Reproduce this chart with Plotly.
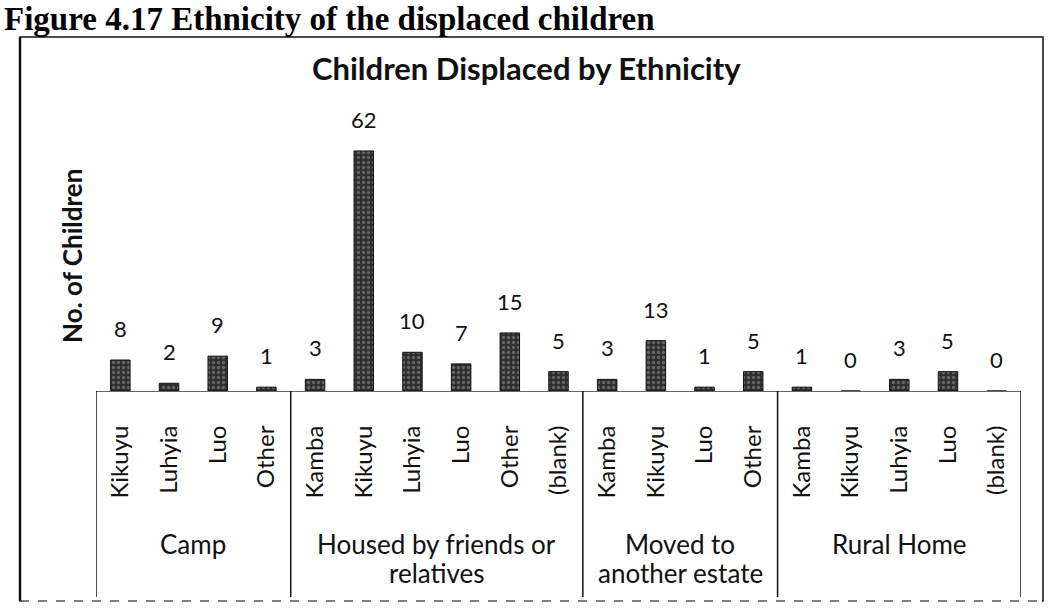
import plotly.graph_objects as go

# ---- data -------------------------------------------------------------
camp_eth = ["Kikuyu", "Luhyia", "Luo", "Other"]
camp_n = [8, 2, 9, 1]

housed_eth = ["Kamba", "Kikuyu", "Luhyia", "Luo", "Other", "(blank)"]
housed_n = [3, 62, 10, 7, 15, 5]

moved_eth = ["Kamba", "Kikuyu", "Luo", "Other"]
moved_n = [3, 13, 1, 5]

rural_eth = ["Kamba", "Kikuyu", "Luhyia", "Luo", "(blank)"]
rural_n = [1, 0, 3, 5, 0]

# group captions, one list entry per printed line
group_lines = [["Camp"], ["Housed by friends or", "relatives"],
               ["Moved to", "another estate"], ["Rural Home"]]

groups_eth = [camp_eth, housed_eth, moved_eth, rural_eth]
groups_n = [camp_n, housed_n, moved_n, rural_n]

# flatten into one category axis
tick_text = [e for g in groups_eth for e in g]
values = [v for g in groups_n for v in g]
xpos = list(range(len(values)))

# ---- geometry ---------------------------------------------------------
W, H = 1049, 615
PL, PR, PT, PB = 96, 1021, 120, 391          # plot area in pixels
Y_MAX = 70


def px_x(X):
    return (X - PL) / (PR - PL)


def px_y(Y):
    return (PB - Y) / (PB - PT)


FONT = "Lato, 'Open Sans', sans-serif"
INK = "#111111"

fig = go.Figure()
fig.add_trace(go.Bar(
    x=xpos, y=values, width=0.4,
    marker=dict(
        color="#2e2e2e",
        line=dict(color=INK, width=1),
        pattern=dict(shape=".", fgcolor="#9c9c9c", size=5,
                     solidity=0.35, fillmode="overlay"),
    ),
    hoverinfo="x+y", showlegend=False,
))

annotations = []

# value labels above each bar
for x, v in zip(xpos, values):
    annotations.append(dict(
        x=x, y=v, xref="x", yref="y", text=str(v), showarrow=False,
        yanchor="bottom", yshift=16,
        font=dict(family=FONT, size=22, color=INK),
    ))

# group captions and dividers beneath the category labels
shapes = []
start = 0
bounds = [-0.5]
for lines, g in zip(group_lines, groups_n):
    end = start + len(g) - 1
    for k, line in enumerate(lines):
        annotations.append(dict(
            x=(start + end) / 2, y=px_y(544 + 29 * k), xref="x", yref="paper",
            text=line, showarrow=False, yanchor="middle", align="center",
            font=dict(family=FONT, size=26, color=INK),
        ))
    bounds.append(end + 0.5)
    start = end + 1

for b in bounds:
    shapes.append(dict(
        type="line", xref="x", yref="paper", x0=b, x1=b,
        y0=0, y1=px_y(597), line=dict(color=INK, width=1.5),
    ))

# outer frame: solid box, heavier left side, faint dashed bottom
FX0, FX1, FY0, FY1 = 20, 1043, 37, 601
shapes += [
    dict(type="rect", xref="paper", yref="paper",
         x0=px_x(FX0), x1=px_x(FX1), y0=px_y(FY1), y1=px_y(FY0),
         line=dict(color=INK, width=1.5)),
    dict(type="line", xref="paper", yref="paper", x0=px_x(FX0), x1=px_x(FX0),
         y0=px_y(FY0), y1=px_y(FY1), line=dict(color=INK, width=2.5)),
    dict(type="line", xref="paper", yref="paper", x0=px_x(FX0 + 2), x1=px_x(FX1 - 1),
         y0=px_y(FY1), y1=px_y(FY1), line=dict(color="white", width=3)),
    dict(type="line", xref="paper", yref="paper", x0=px_x(FX0), x1=px_x(FX1),
         y0=px_y(FY1), y1=px_y(FY1),
         line=dict(color="#555555", width=1.5, dash="dash")),
]

# y-axis title
annotations.append(dict(
    x=px_x(72), y=px_y(256), xref="paper", yref="paper",
    text="<b>No. of Children</b>", textangle=-90, showarrow=False,
    xanchor="center", yanchor="middle",
    font=dict(family=FONT, size=26, color=INK),
))

# chart title
annotations.append(dict(
    x=px_x(526), y=px_y(68), xref="paper", yref="paper",
    text="<b>Children Displaced by Ethnicity</b>", showarrow=False,
    xanchor="center", yanchor="middle",
    font=dict(family=FONT, size=31, color=INK),
))

# figure caption above the frame
annotations.append(dict(
    x=px_x(2), y=px_y(19), xref="paper", yref="paper",
    text="<b>Figure 4.17 Ethnicity of the displaced children</b>",
    showarrow=False, xanchor="left", yanchor="middle",
    font=dict(family="'Liberation Serif', 'DejaVu Serif', serif",
              size=33, color="#000000"),
))

fig.update_layout(
    width=W, height=H,
    margin=dict(l=PL, r=W - PR, t=PT, b=H - PB, autoexpand=False),
    paper_bgcolor="white", plot_bgcolor="white",
    bargap=0.6,
    xaxis=dict(
        range=[-0.5, len(values) - 0.5],
        tickmode="array", tickvals=xpos, ticktext=tick_text,
        tickangle=-90, ticks="outside", ticklen=24,
        tickcolor="rgba(0,0,0,0)",
        tickfont=dict(family=FONT, size=24, color=INK),
        showline=True, linecolor="#666666", linewidth=1,
        showgrid=False, zeroline=False, automargin=False,
    ),
    yaxis=dict(
        range=[0, Y_MAX], visible=False, showgrid=False,
        zeroline=False, automargin=False,
    ),
    annotations=annotations,
    shapes=shapes,
)

fig.write_html("out.html")
